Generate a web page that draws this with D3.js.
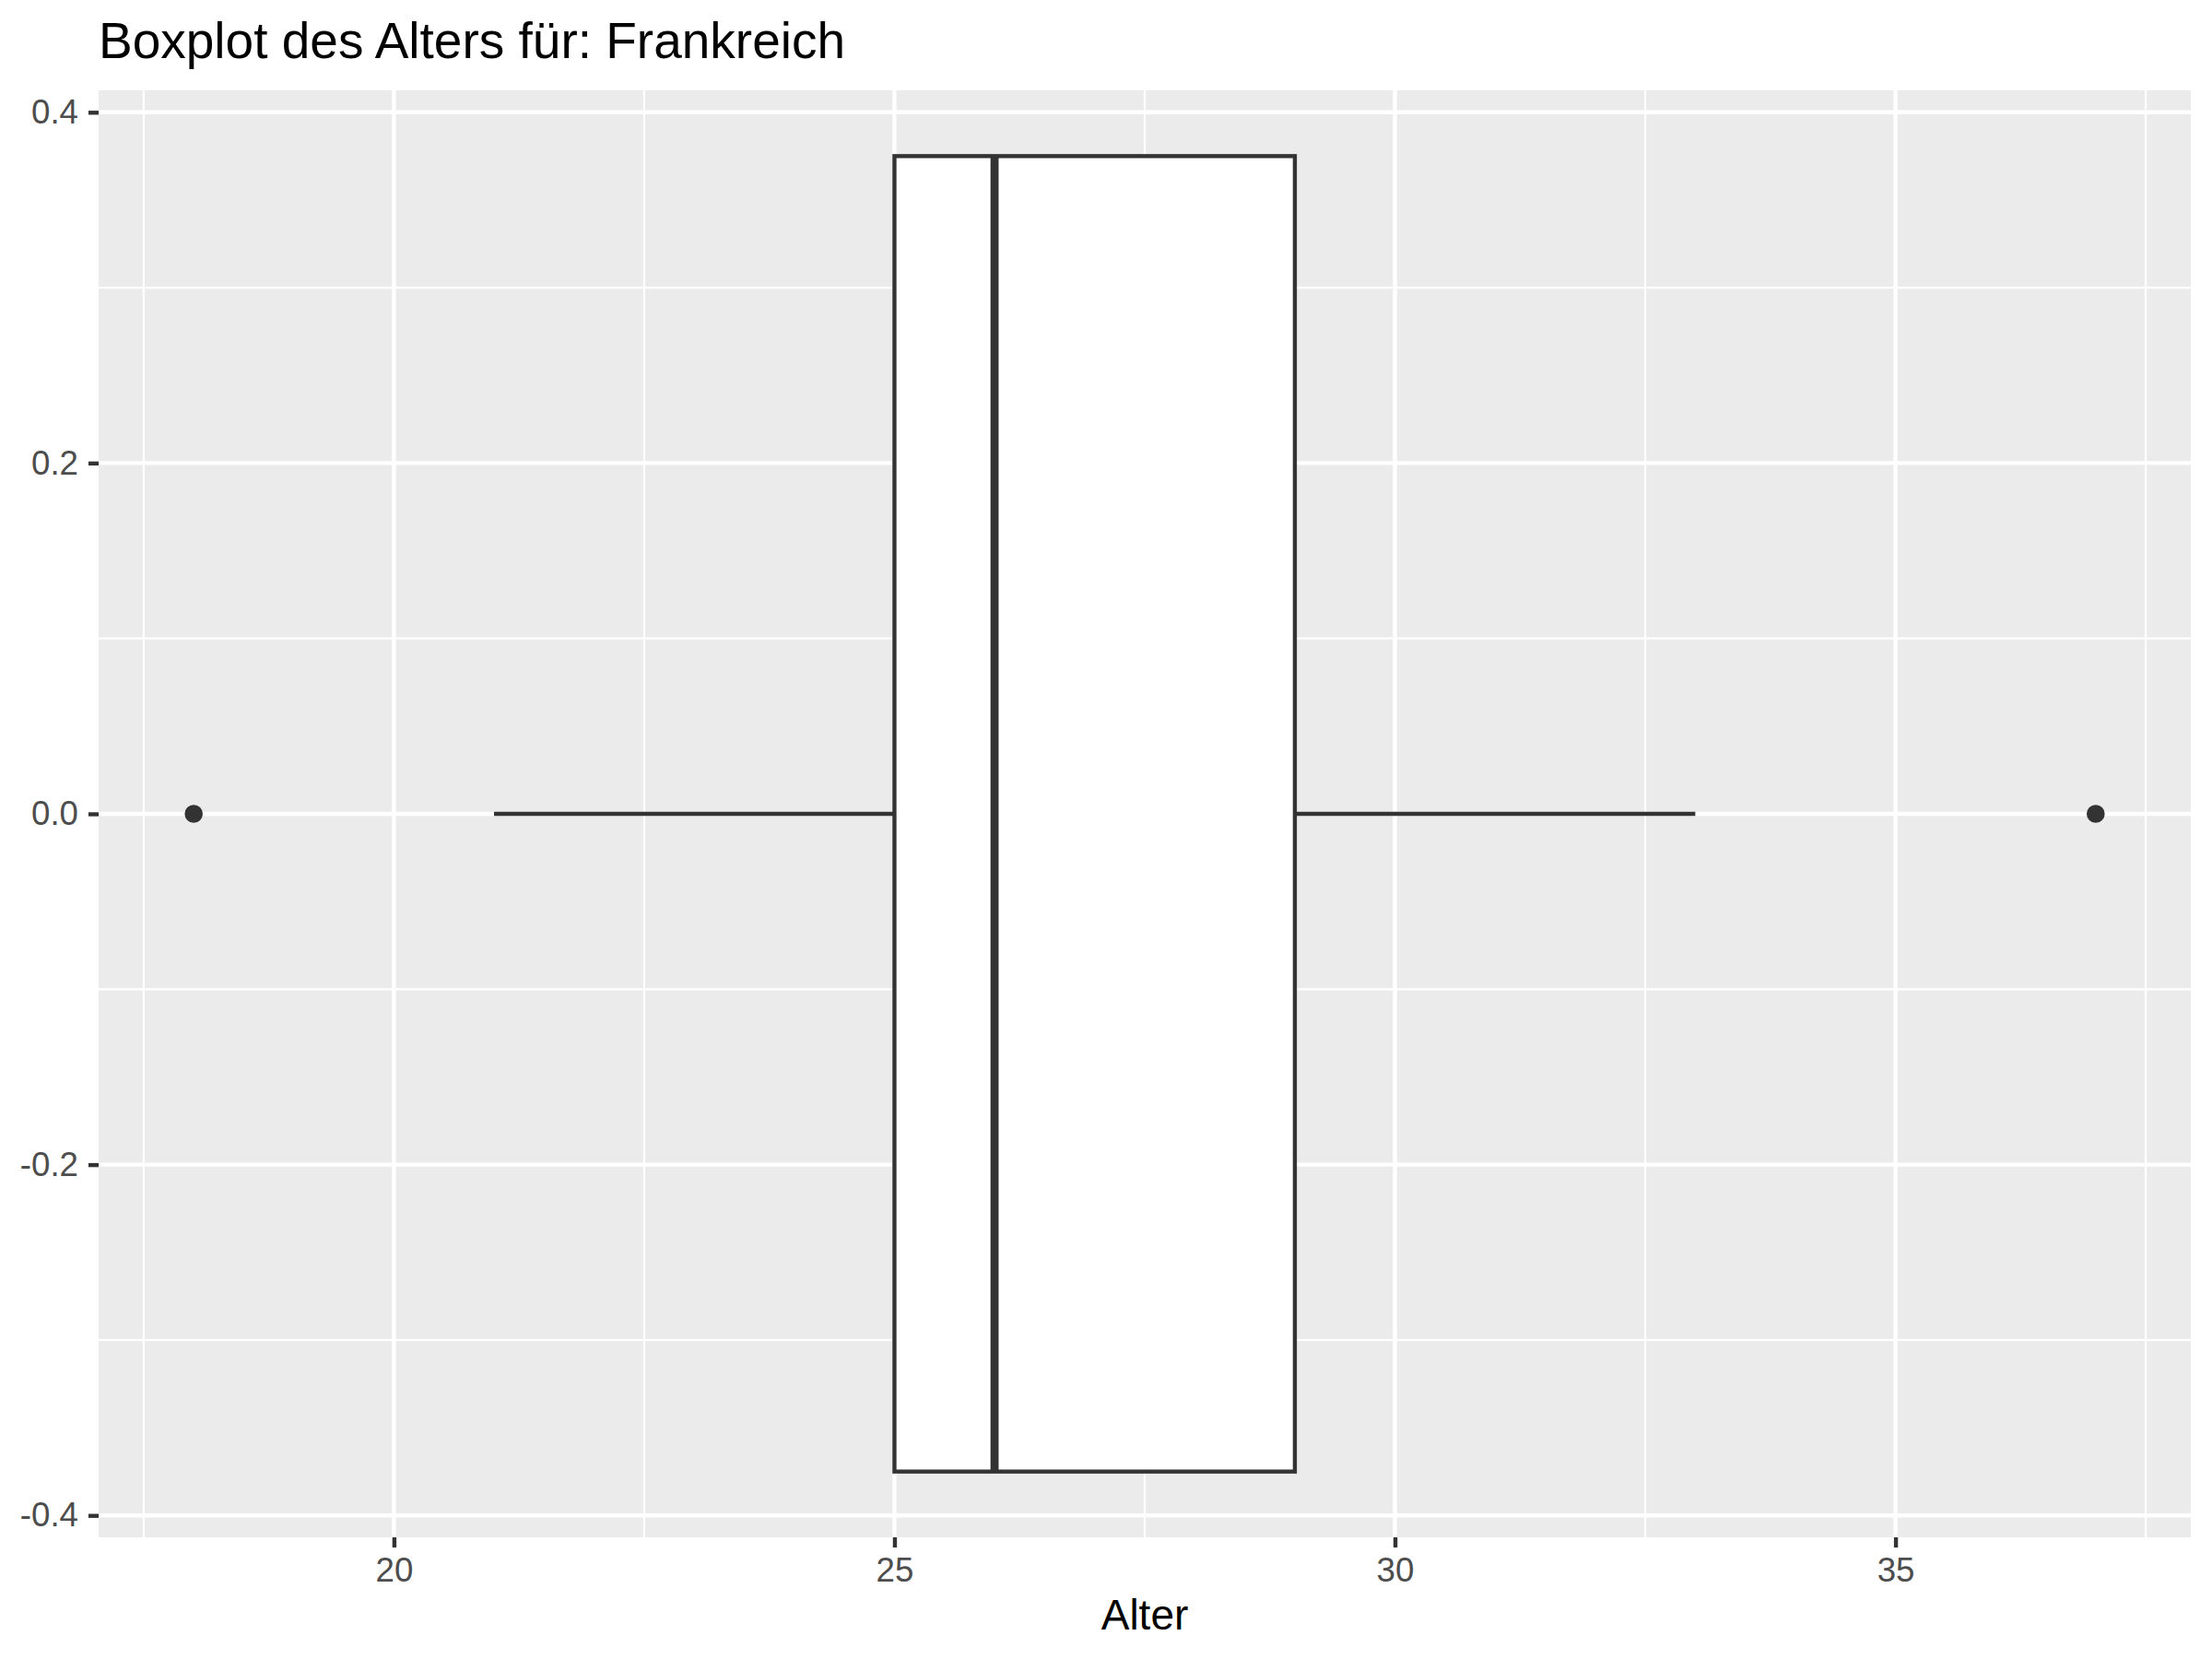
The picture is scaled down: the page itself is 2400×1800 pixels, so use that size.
<!DOCTYPE html>
<html>
<head>
<meta charset="utf-8">
<script src="https://cdn.jsdelivr.net/npm/d3@7"></script>
<style>
  body { margin: 0; background: #fff; }
  svg text { font-family: "Liberation Sans", Arial, sans-serif; }
</style>
</head>
<body>
<svg id="chart" width="2400" height="1800"></svg>
<script>
// box statistics for Alter (Frankreich)
var boxStats = [{ lower: 21, q1: 25, median: 26, q3: 29, upper: 33 }];
var outliers = [18, 37];
var xTicks = [20, 25, 30, 35];
var xMinor = [17.5, 22.5, 27.5, 32.5, 37.5];
var yTicks = [-0.4, -0.2, 0, 0.2, 0.4];
var yMinor = [-0.3, -0.1, 0.1, 0.3];
var boxHalfWidth = 0.375;

var svg = d3.select("#chart");
var margin = { left: 107, right: 23, top: 98, bottom: 132 };
var width = 2400 - margin.left - margin.right,
    height = 1800 - margin.top - margin.bottom;

//scales, ggplot-style 5% expansion
var x = d3.scaleLinear().domain([17.05, 37.95]).range([0, width]);
var y = d3.scaleLinear().domain([-0.4125, 0.4125]).range([height, 0]);

var g = svg.append("g")
    .attr("transform", "translate(" + margin.left + "," + margin.top + ")");

//panel background
g.append("rect")
    .attr("width", width)
    .attr("height", height)
    .attr("fill", "#EBEBEB");

//minor grid
g.selectAll("line.xminor").data(xMinor).enter().append("line")
    .attr("x1", function(d) { return x(d); })
    .attr("x2", function(d) { return x(d); })
    .attr("y1", 0).attr("y2", height)
    .attr("stroke", "#fff").attr("stroke-width", 2.2);
g.selectAll("line.yminor").data(yMinor).enter().append("line")
    .attr("y1", function(d) { return y(d); })
    .attr("y2", function(d) { return y(d); })
    .attr("x1", 0).attr("x2", width)
    .attr("stroke", "#fff").attr("stroke-width", 2.2);

//major grid
g.selectAll("line.xmajor").data(xTicks).enter().append("line")
    .attr("x1", function(d) { return x(d); })
    .attr("x2", function(d) { return x(d); })
    .attr("y1", 0).attr("y2", height)
    .attr("stroke", "#fff").attr("stroke-width", 4.4);
g.selectAll("line.ymajor").data(yTicks).enter().append("line")
    .attr("y1", function(d) { return y(d); })
    .attr("y2", function(d) { return y(d); })
    .attr("x1", 0).attr("x2", width)
    .attr("stroke", "#fff").attr("stroke-width", 4.4);

//whiskers
var box = g.selectAll("g.box").data(boxStats).enter().append("g");
box.append("line")
    .attr("x1", function(d) { return x(d.lower); })
    .attr("x2", function(d) { return x(d.q1); })
    .attr("y1", y(0)).attr("y2", y(0))
    .attr("stroke", "#333333").attr("stroke-width", 4.4);
box.append("line")
    .attr("x1", function(d) { return x(d.q3); })
    .attr("x2", function(d) { return x(d.upper); })
    .attr("y1", y(0)).attr("y2", y(0))
    .attr("stroke", "#333333").attr("stroke-width", 4.4);

//box
box.append("rect")
    .attr("x", function(d) { return x(d.q1); })
    .attr("width", function(d) { return x(d.q3) - x(d.q1); })
    .attr("y", y(boxHalfWidth))
    .attr("height", y(-boxHalfWidth) - y(boxHalfWidth))
    .attr("fill", "#fff")
    .attr("stroke", "#333333")
    .attr("stroke-width", 4.4);

//median
box.append("line")
    .attr("x1", function(d) { return x(d.median); })
    .attr("x2", function(d) { return x(d.median); })
    .attr("y1", y(boxHalfWidth)).attr("y2", y(-boxHalfWidth))
    .attr("stroke", "#333333").attr("stroke-width", 8.8);

//outliers
g.selectAll("circle").data(outliers).enter().append("circle")
    .attr("cx", function(d) { return x(d); })
    .attr("cy", y(0))
    .attr("r", 9.8)
    .attr("fill", "#333333");

//axes (plain hyphen for negatives, like R)
var fmtY = function(d) { return d3.format(".1f")(d).replace("\u2212", "-"); };
var xAxis = g.append("g")
    .attr("transform", "translate(0," + height + ")")
    .call(d3.axisBottom(x).tickValues(xTicks).tickSize(11).tickPadding(11)
        .tickFormat(d3.format("d")));
var yAxis = g.append("g")
    .call(d3.axisLeft(y).tickValues(yTicks).tickSize(11).tickPadding(11)
        .tickFormat(fmtY));

[xAxis, yAxis].forEach(function(a) {
    a.select(".domain").remove();
    a.selectAll(".tick line").attr("stroke", "#333333").attr("stroke-width", 4.4);
    a.selectAll(".tick text")
        .attr("fill", "#4D4D4D")
        .attr("font-size", 36.7)
        .attr("font-family", "Liberation Sans, Arial, sans-serif");
});

//axis title
svg.append("text")
    .attr("x", margin.left + width / 2)
    .attr("y", 1768)
    .attr("text-anchor", "middle")
    .attr("font-size", 46)
    .attr("fill", "#000")
    .text("Alter");

//plot title
svg.append("text")
    .attr("x", 107)
    .attr("y", 63)
    .attr("font-size", 55)
    .attr("fill", "#000")
    .text("Boxplot des Alters für: Frankreich");
</script>
</body>
</html>
